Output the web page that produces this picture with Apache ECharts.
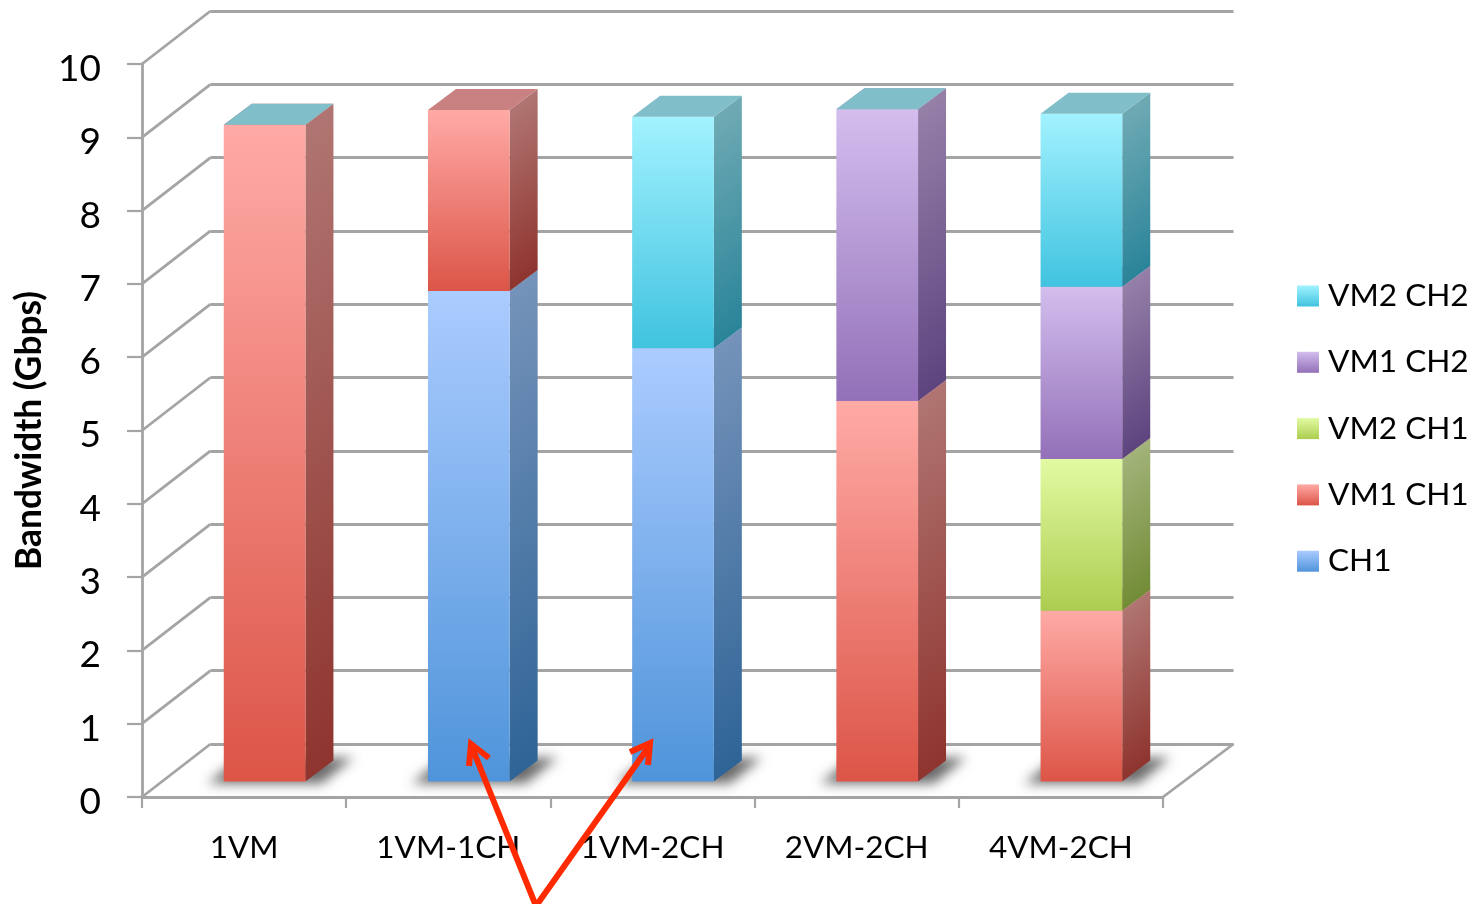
<!DOCTYPE html>
<html>
<head>
<meta charset="utf-8">
<style>html,body{margin:0;padding:0;background:#fff}#c{width:1477px;height:904px}</style>
<script src="https://cdn.jsdelivr.net/npm/echarts@6/dist/echarts.min.js"></script>
</head>
<body>
<div id="c"></div>
<script>
const categories = ['1VM', '1VM-1CH', '1VM-2CH', '2VM-2CH', '4VM-2CH'];
const yTicks = [0, 1, 2, 3, 4, 5, 6, 7, 8, 9, 10];
const ch1    = [null, 6.69, 5.91, null, null];
const vm1ch1 = [8.96, 2.47, null, 5.19, 2.33];
const vm2ch1 = [null, null, null, null, 2.07];
const vm1ch2 = [null, null, null, 3.98, 2.35];
const vm2ch2 = [0, null, 3.16, 0, 2.36];

const seriesDefs = [
  { name: 'CH1', values: ch1, front: ['#ABCCFF', '#4F94DA'], side: ['#7593BA', '#2F6497'], top: '#7FA5C8' },
  { name: 'VM1 CH1', values: vm1ch1, front: ['#FFAAA6', '#DC5547'], side: ['#B07572', '#8F342E'], top: '#C88080' },
  { name: 'VM2 CH1', values: vm2ch1, front: ['#E2FAA2', '#ACCD50'], side: ['#A3B37A', '#728C36'], top: '#B5C884' },
  { name: 'VM1 CH2', values: vm1ch2, front: ['#D3BEEE', '#9370B8'], side: ['#9580A8', '#5D447F'], top: '#A090BC' },
  { name: 'VM2 CH2', values: vm2ch2, front: ['#A2F2FF', '#40C3DF'], side: ['#6FAAB4', '#2A8499'], top: '#80BEC9' }
];

const G = echarts.graphic;
const WALL = [68.5, -53], FLOOR = [20.5, -15.5], BAR_DEPTH = [28, -21], BAR_RATIO = 0.4;

function cumulative(catIdx, upto) {
  let s = 0;
  for (let i = 0; i < upto; i++) s += seriesDefs[i].values[catIdx] || 0;
  return s;
}

function renderSegment(def) {
  return function (params, api) {
    const cat = api.value(0), lo = api.value(1), hi = api.value(2);
    const band = api.size([1, 0])[0], w = band * BAR_RATIO;
    const pLo = api.coord([cat, lo]), pHi = api.coord([cat, hi]);
    const l = pLo[0] - w / 2 + FLOOR[0], r = l + w;
    const b = pLo[1] + FLOOR[1], t = pHi[1] + FLOOR[1];
    const dx = BAR_DEPTH[0], dy = BAR_DEPTH[1], h = b - t;
    const children = [];
    if (h > 0) {
      children.push({
        type: 'polygon',
        shape: { points: [[r, t], [r + dx, t + dy], [r + dx, b + dy], [r, b]] },
        style: { fill: new G.LinearGradient(r, t, r + 0.48 * h, t + 0.64 * h,
          [{ offset: 0, color: def.side[0] }, { offset: 1, color: def.side[1] }], true) }
      });
      children.push({
        type: 'rect',
        shape: { x: l, y: t, width: w, height: h },
        style: { fill: new G.LinearGradient(0, 0, 0, 1,
          [{ offset: 0, color: def.front[0] }, { offset: 1, color: def.front[1] }]) }
      });
    }
    children.push({
      type: 'polygon',
      shape: { points: [[l, t], [l + dx, t + dy], [r + dx, t + dy], [r, t]] },
      style: { fill: def.top }
    });
    return { type: 'group', children };
  };
}

const barSeries = seriesDefs.map((def, si) => ({
  type: 'custom',
  name: def.name,
  xAxisIndex: 0,
  yAxisIndex: 0,
  z: 5 + si,
  clip: false,
  silent: true,
  encode: { x: 0, y: [1, 2] },
  itemStyle: { color: new G.LinearGradient(0, 0, 0, 1,
    [{ offset: 0, color: def.front[0] }, { offset: 1, color: def.front[1] }]) },
  data: def.values.map((v, c) => v === null ? null : [c, cumulative(c, si), cumulative(c, si) + v]).filter(Boolean),
  renderItem: renderSegment(def)
}));

const SHADOW_SHIFT = 3000;
const shadowSeries = {
  type: 'custom',
  xAxisIndex: 0,
  yAxisIndex: 0,
  z: 3,
  clip: false,
  silent: true,
  data: categories.map((c, i) => [i, 0]),
  renderItem(params, api) {
    const band = api.size([1, 0])[0], w = band * BAR_RATIO;
    const p = api.coord([api.value(0), 0]);
    const l = p[0] - w / 2 + FLOOR[0] - SHADOW_SHIFT, r = l + w, b = p[1] + FLOOR[1];
    return {
      type: 'polygon',
      shape: { points: [[l - 16, b + 2], [l + 14, b - 22], [r + 48, b - 24], [r + 16, b + 2]] },
      style: { fill: '#555', shadowBlur: 12, shadowColor: 'rgba(70,70,70,0.8)', shadowOffsetX: SHADOW_SHIFT }
    };
  }
};

const depthSeries = {
  type: 'custom',
  xAxisIndex: 0,
  yAxisIndex: 0,
  z: 1,
  clip: false,
  silent: true,
  data: yTicks.map(t => [0, t]),
  renderItem(params, api) {
    const y = api.coord([0, api.value(1)])[1], x = params.coordSys.x;
    const lineStyle = { stroke: '#A4A4A4', lineWidth: 2.8 };
    const children = [{ type: 'line', shape: { x1: x, y1: y, x2: x + WALL[0], y2: y + WALL[1] }, style: lineStyle }];
    if (api.value(1) === 0) {
      const xr = x + params.coordSys.width;
      children.push({ type: 'line', shape: { x1: xr, y1: y, x2: xr + WALL[0] + 2, y2: y + WALL[1] }, style: lineStyle });
    }
    return { type: 'group', children };
  }
};

const axisLine = { show: true, lineStyle: { color: '#A4A4A4', width: 2.8 } };
const FONT = 'Lato, Carlito, sans-serif';

const arrowStyle = { stroke: '#FF2A00', lineWidth: 6, fill: 'none', lineJoin: 'miter', lineCap: 'butt' };

const option = {
  animation: false,
  backgroundColor: '#fff',
  textStyle: { fontFamily: FONT },
  grid: [
    { left: 142, top: 64, width: 1021, height: 733 },
    { left: 210.5, top: 11, width: 1023, height: 733 }
  ],
  xAxis: [
    { type: 'category', gridIndex: 0, data: categories, boundaryGap: true,
      axisLine, axisTick: { show: true, length: 11, lineStyle: { color: '#A4A4A4', width: 2.2 } },
      axisLabel: { color: '#000', fontSize: 31.5, fontFamily: FONT, margin: 35 }, splitLine: { show: false } },
    { type: 'category', gridIndex: 1, data: categories, show: false }
  ],
  yAxis: [
    { type: 'value', gridIndex: 0, min: 0, max: 10, interval: 1,
      name: 'Bandwidth (Gbps)', nameLocation: 'middle', nameGap: 94, nameRotate: 90,
      nameTextStyle: { color: '#000', fontSize: 35.3, fontWeight: 'bold', fontFamily: FONT },
      axisLine, axisTick: { show: true, length: 15, lineStyle: { color: '#A4A4A4', width: 2.2 } },
      axisLabel: { color: '#000', fontSize: 37, fontFamily: FONT, margin: 41, verticalAlign: 'top', lineHeight: 10 }, splitLine: { show: false } },
    { type: 'value', gridIndex: 1, min: 0, max: 10, interval: 1,
      axisLine: { show: false }, axisTick: { show: false }, axisLabel: { show: false },
      splitLine: { show: true, lineStyle: { color: '#A4A4A4', width: 2.8 } } }
  ],
  legend: {
    data: seriesDefs.map(d => d.name).reverse(),
    orient: 'vertical',
    left: 1297,
    top: 278.5,
    padding: 0,
    icon: 'rect',
    itemWidth: 22,
    itemHeight: 21,
    itemGap: 31.3,
    selectedMode: false,
    textStyle: { color: '#000', fontSize: 31.6, fontFamily: FONT, lineHeight: 21, padding: [14, 0, 0, 4] }
  },
  graphic: [
    { type: 'polyline', z: 100, shape: { points: [[536, 906], [471, 745]] }, style: arrowStyle },
    { type: 'polyline', z: 100, shape: { points: [[469, 766], [471, 744], [489, 758]] }, style: arrowStyle },
    { type: 'polyline', z: 100, shape: { points: [[536, 906], [650, 745]] }, style: arrowStyle },
    { type: 'polyline', z: 100, shape: { points: [[630, 752], [650, 743], [648, 765]] }, style: arrowStyle }
  ],
  series: [depthSeries, shadowSeries, ...barSeries]
};

echarts.init(document.getElementById('c')).setOption(option);
</script>
</body>
</html>
